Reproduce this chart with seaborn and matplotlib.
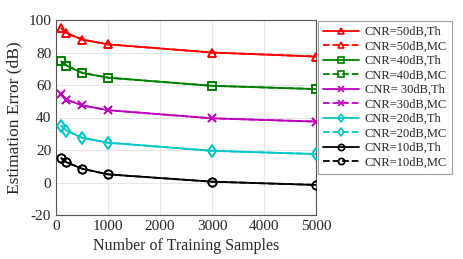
import matplotlib
matplotlib.use('Agg')
import matplotlib.pyplot as plt
import seaborn as sns
import pandas as pd

# ── data ──────────────────────────────────────────────────
samples = [100, 200, 500, 1000, 3000, 5000]
cnr50 = [95, 92, 88, 85, 80, 77.5]
cnr40 = [74.5, 72, 67.5, 64.5, 59.5, 57.5]
cnr30 = [54.5, 51, 47.5, 44.5, 39.5, 37.5]
cnr20 = [35, 32, 27.5, 24.5, 19.5, 17.5]
cnr10 = [15, 12.5, 8.5, 5, 0.5, -1.5]

series = [
    ('CNR=50dB', cnr50, '#ff0000', '^', 'CNR=50dB,Th', 'CNR=50dB,MC'),
    ('CNR=40dB', cnr40, '#008000', 's', 'CNR=40dB,Th', 'CNR=40dB,MC'),
    ('CNR=30dB', cnr30, '#c000c0', 'x', 'CNR= 30dB,Th', 'CNR=30dB,MC'),
    ('CNR=20dB', cnr20, '#00c8c8', 'd', 'CNR=20dB,Th', 'CNR=20dB,MC'),
    ('CNR=10dB', cnr10, '#000000', 'o', 'CNR=10dB,Th', 'CNR=10dB,MC'),
]

sns.set_style('white')
plt.rcParams['font.family'] = ['Liberation Serif', 'DejaVu Serif']
plt.rcParams['axes.unicode_minus'] = False

fig = plt.figure(figsize=(4.63, 2.59), dpi=100)
ax = fig.add_axes([56 / 463, 44 / 259, 260 / 463, 195 / 259])

for name, vals, col, mk, lab_th, lab_mc in series:
    df = pd.DataFrame({'n': samples, 'err': vals})
    mfc = col if mk == 'x' else 'none'
    # MC drawn under Th (they coincide)
    for lab, ls, z in [(lab_th, '-', 3), (lab_mc, '--', 2)]:
        sns.lineplot(data=df, x='n', y='err', ax=ax, color=col, marker=mk,
                     linestyle=ls, linewidth=1.3, markersize=6,
                     markerfacecolor=mfc, markeredgecolor=col,
                     markeredgewidth=1.2, label=lab, zorder=z, legend=False)

ax.set_xlim(0, 5000)
ax.set_ylim(-20, 100)
ax.set_xticks(range(0, 5001, 1000))
ax.set_yticks(range(-20, 101, 20))
ax.grid(True, color='#e6e6e6', linewidth=0.8)
for s in ax.spines.values():
    s.set_color('#555555')
    s.set_linewidth(0.8)
ax.tick_params(labelsize=11, colors='#262626', length=3, direction='in')
ax.set_xlabel('Number of Training Samples', fontsize=11.5, color='#262626')
ax.set_ylabel('Estimation Error (dB)', fontsize=12.5, color='#262626')

# legend in Th/MC order, sitting over the right edge of the axes
h, l = ax.get_legend_handles_labels()
order = []
for _, _, _, _, lab_th, lab_mc in series:
    order.append(l.index(lab_th))
    order.append(l.index(lab_mc))
leg = fig.legend([h[i] for i in order], [l[i] for i in order],
                 loc='upper left', bbox_to_anchor=(318 / 463, 238 / 259),
                 borderaxespad=0, fontsize=9, frameon=True, fancybox=False,
                 edgecolor='#888888', handlelength=2.9, labelspacing=0.2,
                 borderpad=0.4, handletextpad=0.45, markerscale=0.75)
leg.get_frame().set_linewidth(0.8)

plt.savefig('out.png', dpi=100)
plt.close()
